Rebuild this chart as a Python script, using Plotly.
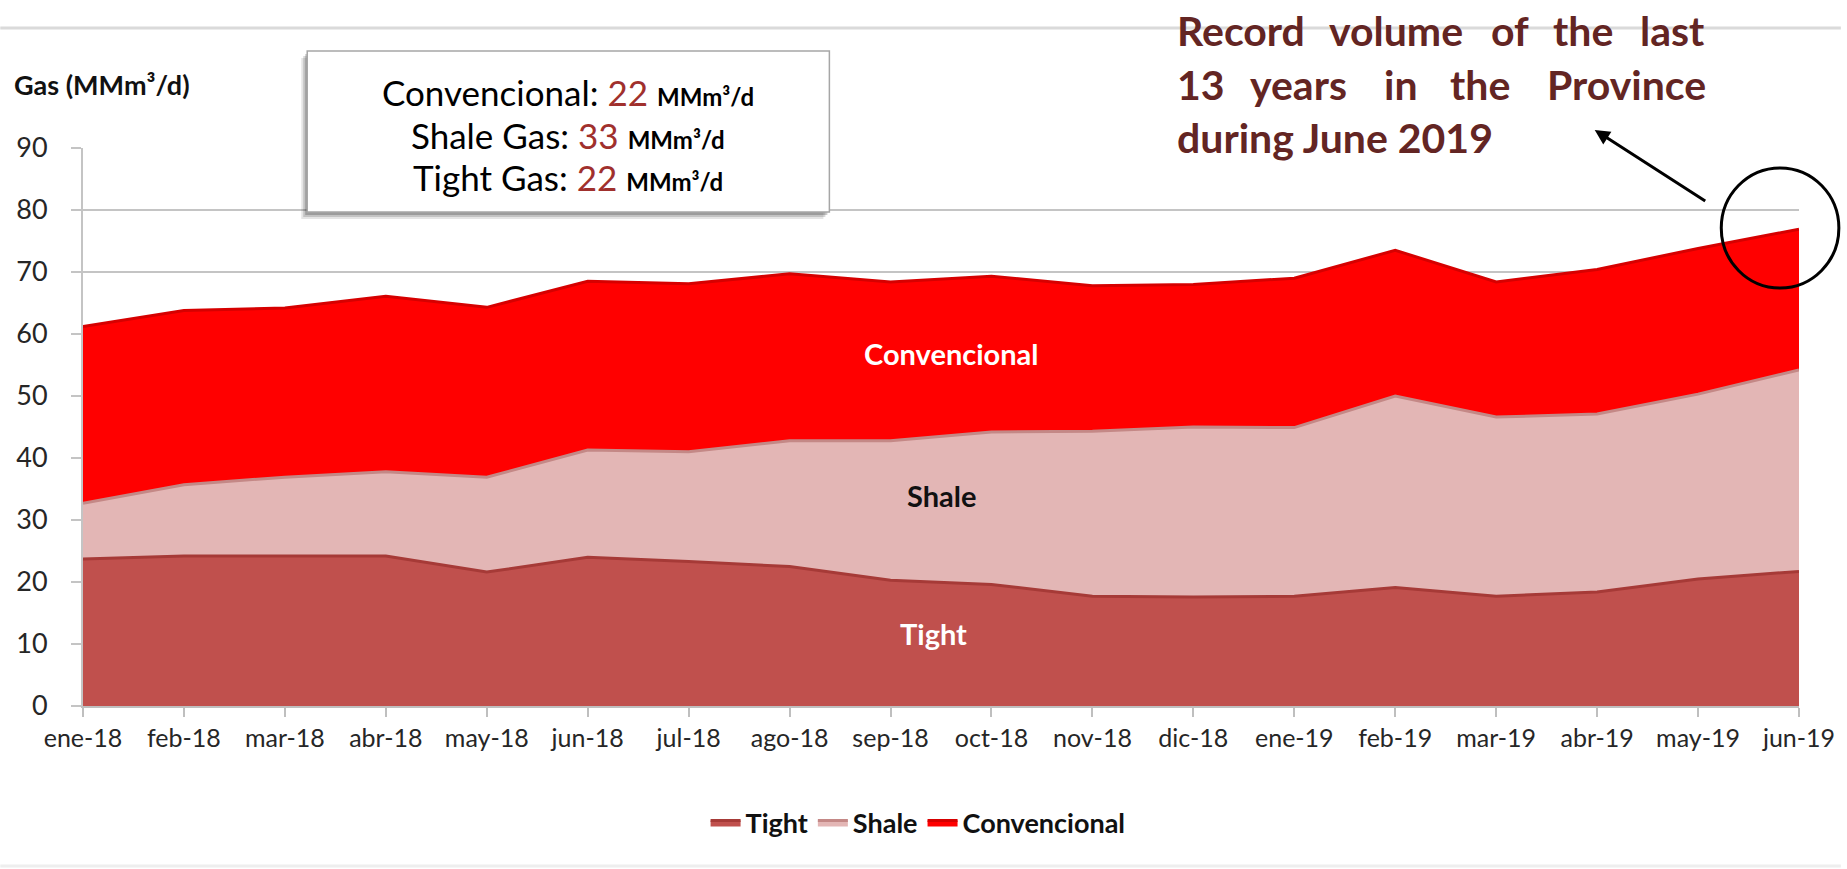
import plotly.graph_objects as go

# ---------------- data ----------------
months = ["ene-18", "feb-18", "mar-18", "abr-18", "may-18", "jun-18", "jul-18", "ago-18", "sep-18",
          "oct-18", "nov-18", "dic-18", "ene-19", "feb-19", "mar-19", "abr-19", "may-19", "jun-19"]
tight = [23.7, 24.2, 24.2, 24.2, 21.6, 24.0, 23.3, 22.5, 20.3, 19.6, 17.7, 17.6, 17.7, 19.1, 17.7, 18.4, 20.5, 21.7]
shale = [9.0, 11.5, 12.7, 13.6, 15.3, 17.3, 17.7, 20.3, 22.5, 24.6, 26.6, 27.4, 27.2, 30.9, 28.9, 28.7, 29.8, 32.5]
conv = [28.5, 28.1, 27.3, 28.3, 27.4, 27.2, 27.1, 26.9, 25.6, 25.1, 23.5, 23.0, 24.1, 23.5, 21.8, 23.3, 23.5, 22.7]

series_names = ["Tight", "Shale", "Convencional"]
y_ticks = [0, 10, 20, 30, 40, 50, 60, 70, 80, 90]

summary_labels = ["Convencional:", "Shale Gas:", "Tight Gas:"]
summary_values = ["22", "33", "22"]
unit = "MMm³/d"
y_title = "Gas (MMm³/d)"
note_lines = [["Record", "volume", "of", "the", "last"],
              ["13", "years", "in", "the", "Province"],
              ["during June 2019"]]

# ---------------- layout geometry ----------------
W, H = 1847, 869
ML, MR, MT, MB = 83, 42, 148, 163
PW, PH = W - ML - MR, H - MT - MB
FONT = "Lato, 'Open Sans', sans-serif"


def px(x):
    return (x - ML) / PW


def py(y):
    return (H - MB - y) / PH


fill_cols = ["#C0504D", "#E3B6B5", "#FF0000"]
line_cols = ["#A63A37", "#C48886", "#D60000"]

fig = go.Figure()
for name, vals, fc, lc in zip(series_names, [tight, shale, conv], fill_cols, line_cols):
    fig.add_trace(go.Scatter(
        x=months, y=vals, name=name, mode="lines", stackgroup="one",
        fillcolor=fc, line=dict(color=lc, width=3), hoverinfo="skip"))

annotations = []
shapes = []

# y axis title
annotations.append(dict(xref="paper", yref="paper", x=px(12), y=py(84), xanchor="left", yanchor="middle",
                        text="<b>" + y_title + "</b>", showarrow=False,
                        font=dict(family=FONT, size=27, color="#111111")))

# in-plot labels
for txt, (cx, cy), col in zip(["Convencional", "Shale", "Tight"],
                              [(955, 353), (945, 495), (936, 633)],
                              ["#FFFFFF", "#111111", "#FFFFFF"]):
    annotations.append(dict(xref="paper", yref="paper", x=px(cx), y=py(cy), xanchor="center", yanchor="middle",
                            text="<b>" + txt + "</b>", showarrow=False,
                            font=dict(family=FONT, size=29, color=col)))

# summary box
bx0, by0, bx1, by1 = 308, 51, 832, 212
for dx, dy, op in [(-6, 7, 0.10), (-4, 5, 0.15), (-2, 3, 0.2)]:
    shapes.append(dict(type="rect", xref="paper", yref="paper", layer="above",
                       x0=px(bx0 + dx), x1=px(bx1 + dx), y0=py(by0 + dy), y1=py(by1 + dy),
                       fillcolor="rgba(0,0,0,%.2f)" % op, line=dict(width=0)))
shapes.append(dict(type="rect", xref="paper", yref="paper", layer="above",
                   x0=px(bx0), x1=px(bx1), y0=py(by0), y1=py(by1),
                   fillcolor="#FFFFFF", line=dict(color="#A6A6A6", width=1.5)))
for lab, val, cy in zip(summary_labels, summary_values, [92, 135, 177]):
    annotations.append(dict(
        xref="paper", yref="paper", x=px(570), y=py(cy), xanchor="center", yanchor="middle", showarrow=False,
        text=lab + " <span style='color:#A0302D'>" + val + "</span> <span style='font-size:24px'><b>" + unit + "</b></span>",
        font=dict(family=FONT, size=35, color="#000000")))

# note text (justified lines)
word_left = [[1179, 1331, 1494, 1556, 1643],
             [1179, 1252, 1387, 1453, 1550],
             [1179]]
for words, lefts, cy in zip(note_lines, word_left, [31, 84, 138]):
    for w, lx in zip(words, lefts):
        annotations.append(dict(xref="paper", yref="paper", x=px(lx), y=py(cy), xanchor="left", yanchor="middle",
                                text="<b>" + w + "</b>", showarrow=False,
                                font=dict(family=FONT, size=41, color="#632523")))

# arrow
annotations.append(dict(xref="paper", yref="paper", x=px(1600), y=py(130), text="", showarrow=True,
                        ax=112, ay=72, arrowhead=2, arrowsize=1, arrowwidth=3, arrowcolor="#000000"))

# ellipse
shapes.append(dict(type="circle", xref="paper", yref="paper", layer="above",
                   x0=px(1727), x1=px(1845), y0=py(288), y1=py(168),
                   line=dict(color="#000000", width=3)))
# slide decoration lines
shapes.append(dict(type="line", xref="paper", yref="paper", x0=px(0), x1=px(W), y0=py(28), y1=py(28),
                   line=dict(color="#DADADA", width=3)))
shapes.append(dict(type="line", xref="paper", yref="paper", x0=px(0), x1=px(W), y0=py(866), y1=py(866),
                   line=dict(color="#EEEEEE", width=3)))

fig.update_layout(
    width=W, height=H,
    margin=dict(l=ML, r=MR, t=MT, b=MB, pad=0),
    paper_bgcolor="#FFFFFF", plot_bgcolor="#FFFFFF",
    font=dict(family=FONT, color="#262626"),
    showlegend=True,
    legend=dict(orientation="h", x=px(921), y=py(823), xanchor="center", yanchor="middle",
                font=dict(family=FONT, size=27, color="#111111", weight="bold"), traceorder="normal",
                itemwidth=30, bgcolor="rgba(0,0,0,0)"),
    annotations=annotations,
    shapes=shapes,
    xaxis=dict(type="category", range=[0, len(months) - 1], showgrid=False,
               showline=True, linecolor="#BFBFBF", linewidth=2,
               ticks="outside", ticklen=9, tickwidth=2, tickcolor="#BFBFBF",
               tickfont=dict(family=FONT, size=25, color="#262626"), fixedrange=True),
    yaxis=dict(range=[0, 90], tickvals=y_ticks, showgrid=True, gridcolor="#C4C4C4", gridwidth=2,
               showline=True, linecolor="#C4C4C4", linewidth=2, zeroline=False,
               ticks="outside", ticklen=10, tickwidth=2, tickcolor="#C4C4C4",
               ticklabelstandoff=18,
               tickfont=dict(family=FONT, size=27, color="#262626"), fixedrange=True),
)

fig.write_html("out.html", post_script="document.body.style.margin='0';",
               config={"displayModeBar": False})
